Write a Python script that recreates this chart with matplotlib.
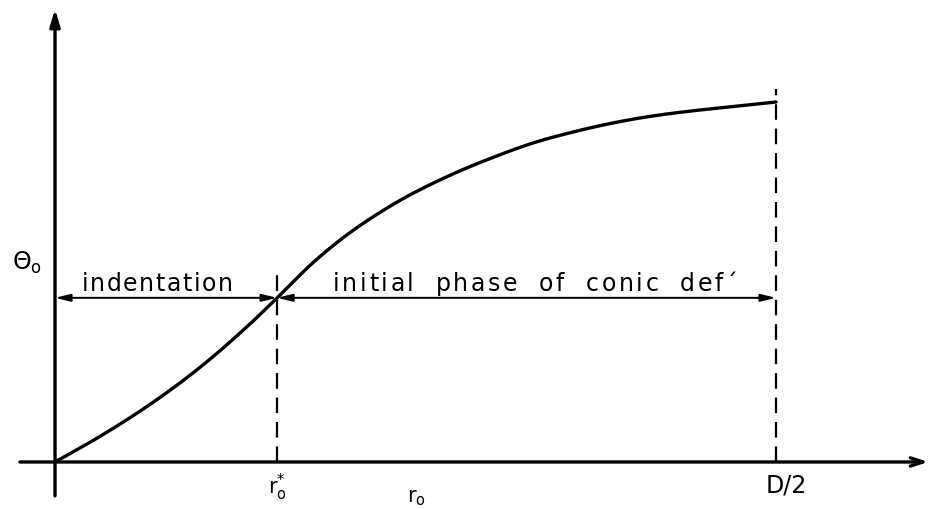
import numpy as np
import matplotlib

matplotlib.use("Agg")
import matplotlib.pyplot as plt

# Theta_o against r_o, normalised so that D/2 = 1 and Theta_o(D/2) = 1
r_curve = [0.0, 0.0624, 0.1318, 0.2011, 0.2705, 0.3079, 0.3578, 0.4050,
           0.4508, 0.4965, 0.5895, 0.6865, 0.8252, 1.0]
theta_curve = [0.0, 0.0711, 0.160, 0.2628, 0.3836, 0.4556, 0.5536, 0.6311,
               0.6933, 0.7464, 0.8319, 0.900, 0.9600, 1.0]

r_star = 0.308      # end of indentation
r_half = 1.0        # D/2
theta_star = 0.456  # Theta_o at r_o*

region_labels = ["indentation", "initial phase of conic def\u00b4"]


def pchip(x, y, xs):
    """Monotone cubic (Fritsch-Carlson) interpolation, no scipy needed."""
    x = np.asarray(x, float)
    y = np.asarray(y, float)
    h = np.diff(x)
    d = np.diff(y) / h
    m = np.zeros_like(y)
    for k in range(1, len(x) - 1):
        if d[k - 1] * d[k] > 0:
            w1 = 2 * h[k] + h[k - 1]
            w2 = h[k] + 2 * h[k - 1]
            m[k] = (w1 + w2) / (w1 / d[k - 1] + w2 / d[k])
    m[0] = d[0]
    m[-1] = d[-1]
    idx = np.clip(np.searchsorted(x, xs) - 1, 0, len(h) - 1)
    t = (xs - x[idx]) / h[idx]
    h00 = 2 * t**3 - 3 * t**2 + 1
    h10 = t**3 - 2 * t**2 + t
    h01 = -2 * t**3 + 3 * t**2
    h11 = t**3 - t**2
    return (h00 * y[idx] + h10 * h[idx] * m[idx]
            + h01 * y[idx + 1] + h11 * h[idx] * m[idx + 1])


def spaced_text(ax, x, y, s, fontsize, tracking, space=0.55):
    """Draw s centred on (x, y), one glyph at a time with extra spacing (px)."""
    renderer = ax.figure.canvas.get_renderer()
    widths = []
    for ch in s:
        probe = ax.text(0, 0, "a" if ch == " " else ch, fontsize=fontsize)
        w = probe.get_window_extent(renderer).width
        probe.remove()
        widths.append(w * space if ch == " " else w)
    total = sum(widths) + tracking * (len(s) - 1)
    x0, y0 = ax.transData.transform((x, y))
    x0 -= total / 2
    inv = ax.transData.inverted()
    for ch, w in zip(s, widths):
        if ch != " ":
            xd, yd = inv.transform((x0, y0))
            ax.text(xd, yd, ch, fontsize=fontsize, ha="left", va="baseline")
        x0 += w + tracking


fig = plt.figure(figsize=(9.32, 5.10), dpi=100)
ax = fig.add_axes([0, 0, 1, 1])
ax.set_xlim(-0.0763, 1.2164)
ax.set_ylim(-0.1306, 1.2861)
ax.axis("off")

ink = "black"

# axes with arrowheads
ax.annotate("", xy=(0, 1.258), xytext=(0, -0.094),
            arrowprops=dict(arrowstyle="-|>,head_length=1.0,head_width=0.3",
                            lw=2.4, color=ink, shrinkA=0, shrinkB=0))
ax.annotate("", xy=(1.211, 0), xytext=(-0.0485, 0),
            arrowprops=dict(arrowstyle="->,head_length=0.9,head_width=0.3",
                            lw=2.4, color=ink, shrinkA=0, shrinkB=0))

# smooth curve through the read-off points
xs = np.linspace(0, 1, 400)
ax.plot(xs, pchip(r_curve, theta_curve, xs), color=ink, lw=2.4,
        solid_capstyle="round")

# dashed verticals
dash = (0, (7, 4))
ax.plot([r_star, r_star], [0, 0.536], color=ink, lw=1.6, linestyle=dash)
ax.plot([r_half, r_half], [0, 1.036], color=ink, lw=1.6, linestyle=dash)

# dimension arrows
dim = dict(arrowstyle="<|-|>,head_length=0.9,head_width=0.22", lw=1.4,
           color=ink, shrinkA=0, shrinkB=0)
ax.annotate("", xy=(0, theta_star), xytext=(r_star, theta_star), arrowprops=dim)
ax.annotate("", xy=(r_star, theta_star), xytext=(r_half, theta_star), arrowprops=dim)

fs = 17
spaced_text(ax, 0.1415, 0.478, region_labels[0], fs, 1.6)
spaced_text(ax, 0.666, 0.478, region_labels[1], fs, 2.6, space=1.15)

ax.text(-0.06, 0.555, r"$\Theta_{\mathrm{o}}$", ha="left", va="center", fontsize=fs)
ax.text(r_star, -0.025, r"$\mathrm{r}_{\mathrm{o}}^{*}$", ha="center", va="top", fontsize=fs - 2)
ax.text(r_half + 0.014, -0.03, "D/2", ha="center", va="top", fontsize=fs)
ax.text(0.502, -0.07, r"$\mathrm{r}_{\mathrm{o}}$", ha="center", va="top", fontsize=fs - 2)

fig.savefig("out.png", dpi=100)
